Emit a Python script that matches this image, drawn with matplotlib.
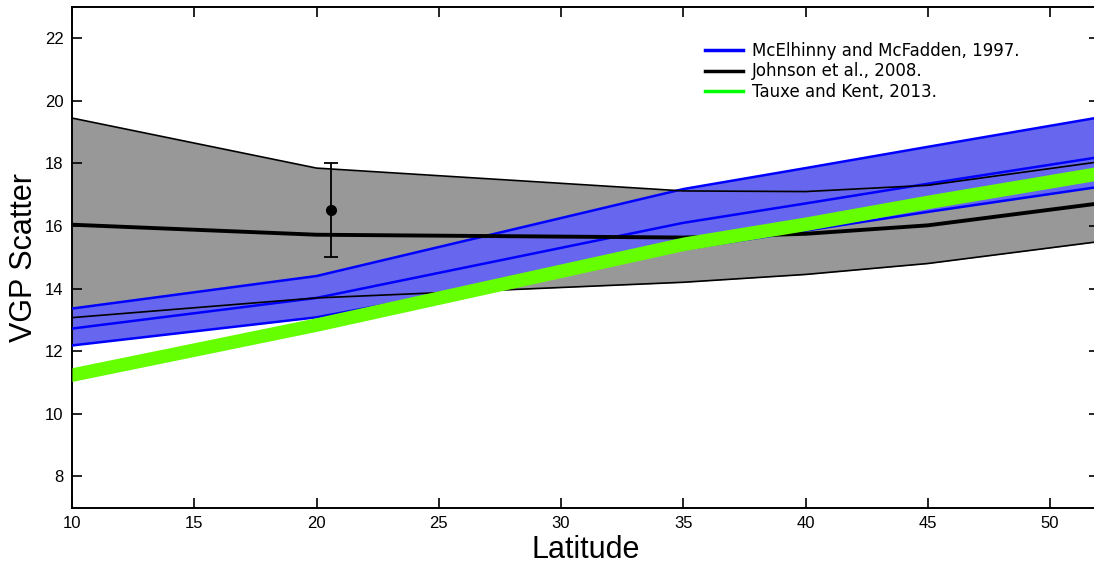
import matplotlib
matplotlib.use("Agg")
import matplotlib.pyplot as plt
from matplotlib.lines import Line2D

# latitude nodes for each model curve
lat = [10, 20, 35, 40, 45, 52]

# McElhinny and McFadden, 1997 (lower / mean / upper)
mm_low = [12.18, 13.08, 15.25, 15.85, 16.45, 17.25]
mm_mid = [12.72, 13.70, 16.10, 16.72, 17.35, 18.20]
mm_up = [13.36, 14.40, 17.18, 17.85, 18.53, 19.47]

# Johnson et al., 2008 (lower / mean / upper)
jo_low = [13.07, 13.70, 14.20, 14.45, 14.80, 15.50]
jo_mid = [16.04, 15.72, 15.63, 15.75, 16.02, 16.72]
jo_up = [19.45, 17.85, 17.12, 17.10, 17.30, 18.05]

# Tauxe and Kent, 2013 (band)
tk_low = [11.03, 12.63, 15.21, 15.85, 16.55, 17.47]
tk_up = [11.47, 13.07, 15.65, 16.29, 16.99, 17.91]

# site estimate with error bar
site_lat = [20.6]
site_s = [16.5]
site_err = [1.5]

fig = plt.figure(figsize=(10.94, 5.65), dpi=100)
ax = fig.add_axes([72 / 1094, 57.5 / 565, 1027 / 1094, 500.5 / 565])

ax.fill_between(lat, jo_low, jo_up, color="#989898", lw=0, zorder=1)
ax.fill_between(lat, mm_low, mm_up, color="#6666ee", lw=0, zorder=2)

ax.plot(lat, mm_up, color="#0000ff", lw=1.8, zorder=3)
ax.plot(lat, mm_mid, color="#0000ff", lw=1.8, zorder=3)
ax.plot(lat, mm_low, color="#0000ff", lw=1.8, zorder=3)

ax.plot(lat, jo_up, color="black", lw=1.2, zorder=4)
ax.plot(lat, jo_low, color="black", lw=1.2, zorder=4)
ax.plot(lat, jo_mid, color="black", lw=2.8, zorder=4)

ax.fill_between(lat, tk_low, tk_up, color="#66ff00", lw=0, zorder=5)

ax.errorbar(site_lat, site_s, yerr=site_err, fmt="o", color="black",
            ms=7, elinewidth=1.3, capsize=5, capthick=1.3, zorder=6)

ax.set_xlim(10, 52)
ax.set_ylim(7, 23)
ax.set_xticks(range(10, 55, 5))
ax.set_yticks(range(8, 24, 2))
ax.tick_params(direction="in", length=7, width=1.2, top=True, right=True,
               labelsize=12, pad=6)
for lab in ax.get_xticklabels() + ax.get_yticklabels():
    lab.set_family("Liberation Sans")
for sp in ax.spines.values():
    sp.set_linewidth(1.4)

ax.set_xlabel("Latitude", fontsize=22, family="Liberation Sans", labelpad=3)
ax.set_ylabel("VGP Scatter", fontsize=22, family="Liberation Sans", labelpad=4)

handles = [Line2D([], [], color="#0000ff", lw=2.5),
           Line2D([], [], color="black", lw=2.5),
           Line2D([], [], color="#00ff00", lw=2.5)]
labels = ["McElhinny and McFadden, 1997.", "Johnson et al., 2008.",
          "Tauxe and Kent, 2013."]
fig.legend(handles, labels, loc="upper left", bbox_to_anchor=(705 / 1094, 1 - 42 / 565),
           frameon=False, fontsize=12, handlelength=2.3, handletextpad=0.5,
           labelspacing=0.15, borderaxespad=0, borderpad=0)

fig.savefig("out.png", dpi=100)
